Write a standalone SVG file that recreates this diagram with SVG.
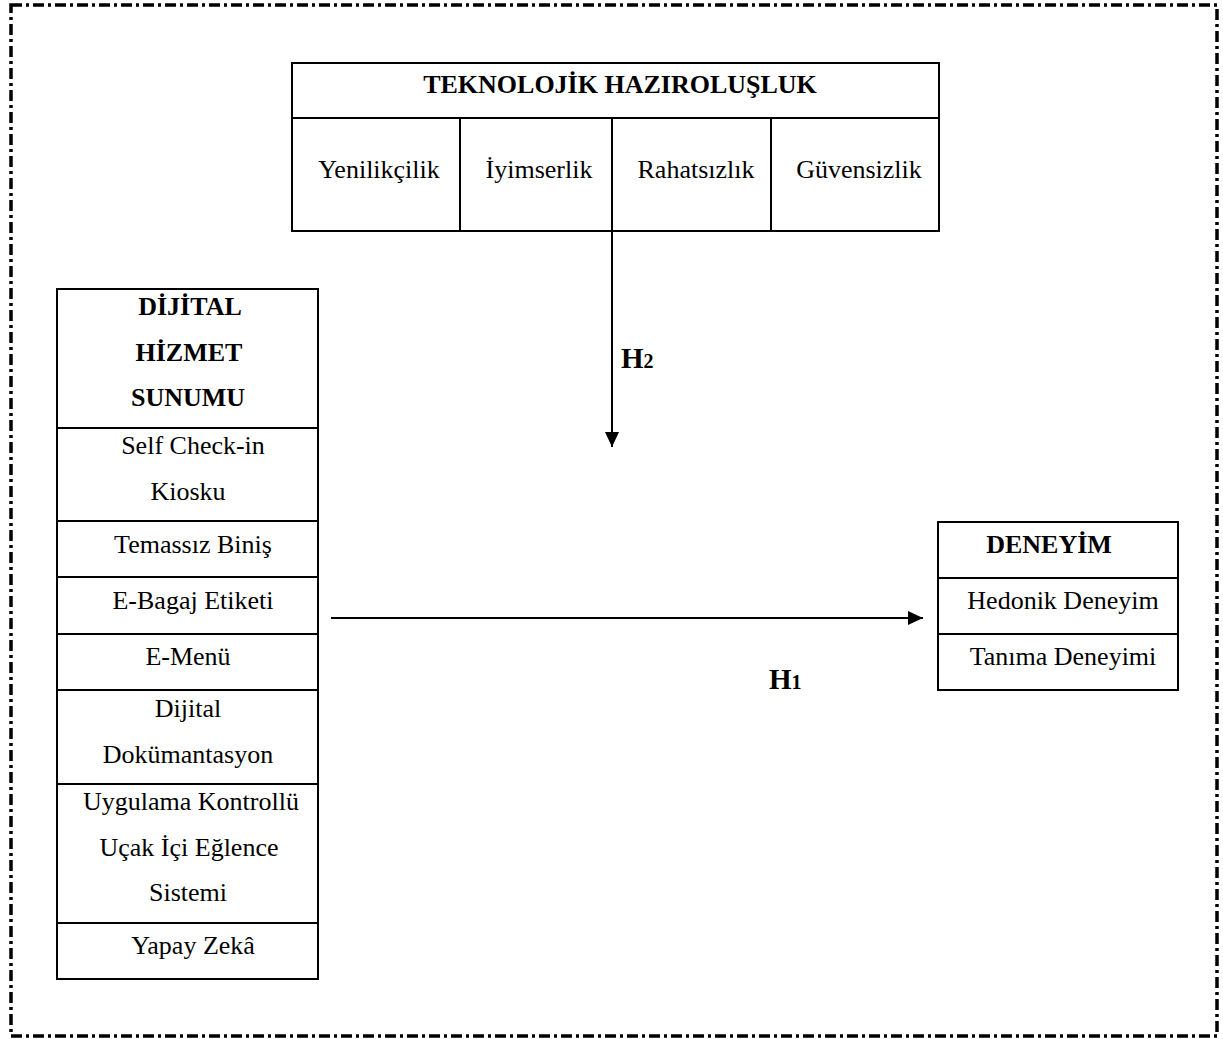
<svg xmlns="http://www.w3.org/2000/svg" width="1223" height="1039" viewBox="0 0 1223 1039">
<style>
.box{fill:#fff;stroke:#000;stroke-width:2}
.div{stroke:#000;stroke-width:2}
.t{font-family:"Liberation Serif","Times New Roman",serif;font-size:26px;fill:#000;text-anchor:middle}
.b{font-weight:bold}
.h{font-family:"Liberation Serif","Times New Roman",serif;font-size:29px;font-weight:bold;fill:#000}
.con{stroke:#000;stroke-width:2;fill:none}
</style>
<defs>
<marker id="ah" markerWidth="15" markerHeight="14" refX="15" refY="7" orient="auto" markerUnits="userSpaceOnUse">
<path d="M0,0 L15,7 L0,14 Z" fill="#000"/>
</marker>
</defs>
<rect x="0" y="0" width="1223" height="1039" fill="#fff"/>
<rect x="11" y="5" width="1206" height="1031" fill="none" stroke="#000" stroke-width="3.5" stroke-dasharray="11 4 3 4"/>

<g id="teknolojik">
<rect class="box" x="292" y="63" width="647" height="168"/>
<line class="div" x1="292" y1="118" x2="939" y2="118"/>
<line class="div" x1="460" y1="118" x2="460" y2="231"/>
<line class="div" x1="612" y1="118" x2="612" y2="231"/>
<line class="div" x1="771" y1="118" x2="771" y2="231"/>
<text class="t b" x="620" y="93">TEKNOLOJİK HAZIROLUŞLUK</text>
<text class="t" x="379" y="178">Yenilikçilik</text>
<text class="t" x="539" y="178">İyimserlik</text>
<text class="t" x="696" y="178">Rahatsızlık</text>
<text class="t" x="859" y="178">Güvensizlik</text>
</g>

<g id="dijital">
<rect class="box" x="57" y="289" width="261" height="690"/>
<line class="div" x1="57" y1="428" x2="318" y2="428"/>
<line class="div" x1="57" y1="521" x2="318" y2="521"/>
<line class="div" x1="57" y1="577" x2="318" y2="577"/>
<line class="div" x1="57" y1="634" x2="318" y2="634"/>
<line class="div" x1="57" y1="690" x2="318" y2="690"/>
<line class="div" x1="57" y1="784" x2="318" y2="784"/>
<line class="div" x1="57" y1="923" x2="318" y2="923"/>
<text class="t b" x="190" y="315">DİJİTAL</text>
<text class="t b" x="189" y="361">HİZMET</text>
<text class="t b" x="188" y="406">SUNUMU</text>
<text class="t" x="193" y="454">Self Check-in</text>
<text class="t" x="188" y="500">Kiosku</text>
<text class="t" x="193" y="553">Temassız Biniş</text>
<text class="t" x="193" y="609">E-Bagaj Etiketi</text>
<text class="t" x="188" y="665">E-Menü</text>
<text class="t" x="188" y="717">Dijital</text>
<text class="t" x="188" y="763">Dokümantasyon</text>
<text class="t" x="191" y="810">Uygulama Kontrollü</text>
<text class="t" x="189" y="856">Uçak İçi Eğlence</text>
<text class="t" x="188" y="901">Sistemi</text>
<text class="t" x="193" y="954">Yapay Zekâ</text>
</g>

<g id="deneyim">
<rect class="box" x="938" y="522" width="240" height="168"/>
<line class="div" x1="938" y1="578" x2="1178" y2="578"/>
<line class="div" x1="938" y1="634" x2="1178" y2="634"/>
<text class="t b" x="1049" y="553">DENEYİM</text>
<text class="t" x="1063" y="609">Hedonik Deneyim</text>
<text class="t" x="1063" y="665">Tanıma Deneyimi</text>
</g>

<g id="connectors">
<line class="con" x1="612" y1="231" x2="612" y2="447" marker-end="url(#ah)"/>
<line class="con" x1="331" y1="618" x2="923" y2="618" marker-end="url(#ah)"/>
<text class="h" x="621" y="368">H<tspan font-size="20" dy="0">2</tspan></text>
<text class="h" x="769" y="689">H<tspan font-size="20" dy="0">1</tspan></text>
</g>
</svg>
